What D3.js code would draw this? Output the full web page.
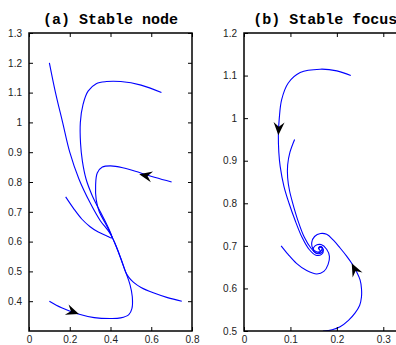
<!DOCTYPE html>
<html>
<head>
<meta charset="utf-8">
<script src="https://cdn.jsdelivr.net/npm/d3@7"></script>
<style>
  body { margin: 0; background: #fff; }
  svg { display: block; }
  .tick text { font-family: "Liberation Sans", Arial, sans-serif; font-size: 10px; fill: #222; }
  .title { font-family: "Liberation Mono", "Courier New", monospace; font-weight: bold; font-size: 15px; fill: #000; }
</style>
</head>
<body>
<div id="chart"></div>
<script>
// panel (a) stable node: trajectories [x, y]
const nodeA = [0.408, 0.615];
const trajA = [
  [[0.1, 1.2], [0.13, 1.1], [0.165, 1.0], [0.2, 0.9], [0.245, 0.81], [0.3, 0.73], [0.35, 0.67], [0.385, 0.64], [0.4, 0.625], nodeA],
  [[0.65, 1.1], [0.55, 1.125], [0.45, 1.137], [0.38, 1.137], [0.33, 1.13], [0.29, 1.105], [0.265, 1.06], [0.252, 1.0], [0.253, 0.93], [0.262, 0.87], [0.28, 0.81], [0.31, 0.755], [0.35, 0.70], [0.38, 0.66], [0.4, 0.63], nodeA],
  [[0.70, 0.80], [0.62, 0.815], [0.545, 0.831], [0.46, 0.848], [0.40, 0.854], [0.36, 0.85], [0.335, 0.83], [0.327, 0.79], [0.33, 0.74], [0.345, 0.70], [0.372, 0.665], [0.395, 0.635], nodeA],
  [[0.18, 0.75], [0.22, 0.71], [0.26, 0.675], [0.3, 0.65], [0.34, 0.632], [0.38, 0.62], [0.405, 0.612], nodeA],
  [[0.1, 0.4], [0.16, 0.378], [0.242, 0.357], [0.32, 0.345], [0.398, 0.342], [0.45, 0.344], [0.49, 0.355], [0.505, 0.375], [0.507, 0.415], [0.496, 0.455], [0.476, 0.495], [0.455, 0.535], [0.435, 0.572], [0.42, 0.597], nodeA],
  [[0.75, 0.4], [0.68, 0.412], [0.61, 0.428], [0.55, 0.446], [0.512, 0.464], [0.49, 0.48], [0.474, 0.498], [0.455, 0.535], [0.435, 0.572], [0.42, 0.597], nodeA]
];
// arrows: [tipX, tipY, fromX, fromY]
const arrowsA = [
  [0.541, 0.826, 0.62, 0.815],
  [0.245, 0.357, 0.16, 0.378]
];

// panel (b) stable focus
const focusB = [0.16, 0.694];
const trajB = [
  [[0.23, 1.10], [0.2, 1.111], [0.164, 1.115], [0.121, 1.107], [0.095, 1.082], [0.081, 1.043], [0.076, 1.0], [0.074, 0.96], [0.075, 0.92], [0.078, 0.886], [0.086, 0.84], [0.097, 0.80], [0.11, 0.76], [0.125, 0.72], [0.14, 0.692], [0.155, 0.678], [0.167, 0.68], [0.171, 0.69], [0.166, 0.698], focusB],
  [[0.109, 0.95], [0.099, 0.92], [0.094, 0.89], [0.094, 0.86], [0.098, 0.83], [0.105, 0.80], [0.116, 0.76], [0.13, 0.72], [0.144, 0.695], [0.157, 0.682], [0.167, 0.684], [0.17, 0.692], [0.164, 0.699], focusB],
  [[0.08, 0.70], [0.095, 0.68], [0.113, 0.659], [0.135, 0.642], [0.157, 0.634], [0.172, 0.64], [0.181, 0.656], [0.184, 0.675], [0.178, 0.692], [0.166, 0.703], [0.153, 0.70], [0.149, 0.69], [0.155, 0.683], [0.165, 0.686], focusB],
  [[0.17, 0.50], [0.19, 0.503], [0.207, 0.51], [0.225, 0.525], [0.239, 0.542], [0.249, 0.56], [0.253, 0.58], [0.253, 0.60], [0.25, 0.62], [0.242, 0.64], [0.232, 0.659], [0.221, 0.676], [0.207, 0.695], [0.192, 0.714], [0.178, 0.727], [0.165, 0.729], [0.152, 0.722], [0.146, 0.708], [0.148, 0.694], [0.156, 0.686], [0.166, 0.688], [0.168, 0.697], focusB]
];
const arrowsB = [
  [0.074, 0.96, 0.076, 1.0],
  [0.232, 0.659, 0.25, 0.62]
];

const xTicksA = [0, 0.2, 0.4, 0.6, 0.8];
const yTicksA = [0.4, 0.5, 0.6, 0.7, 0.8, 0.9, 1.0, 1.1, 1.2, 1.3];
const xTicksB = [0, 0.1, 0.2, 0.3];
const yTicksB = [0.5, 0.6, 0.7, 0.8, 0.9, 1.0, 1.1, 1.2];

const width = 396, height = 345;
const svg = d3.select('#chart').append('svg')
  .attr('width', width).attr('height', height);

function drawPanel(opts) {
  const x = d3.scaleLinear().domain(opts.xDomain).range([opts.left, opts.right]);
  const y = d3.scaleLinear().domain(opts.yDomain).range([opts.bottom, opts.top]);
  const g = svg.append('g');
  const fmt = (d) => d3.format('~g')(d);

  const clipId = 'clip-' + opts.name;
  svg.append('clipPath').attr('id', clipId)
    .append('rect')
    .attr('x', opts.left).attr('y', opts.top)
    .attr('width', opts.right - opts.left).attr('height', opts.bottom - opts.top);

  const line = d3.line()
    .x((d) => x(d[0])).y((d) => y(d[1]))
    .curve(d3.curveCatmullRom.alpha(0.5));

  g.append('g').attr('clip-path', `url(#${clipId})`)
    .selectAll('path').data(opts.traj).enter()
    .append('path')
    .attr('d', line)
    .attr('fill', 'none')
    .attr('stroke', '#0000ff')
    .attr('stroke-width', 1.1);

  // arrow heads
  g.selectAll('path.arrow').data(opts.arrows).enter()
    .append('path')
    .attr('class', 'arrow')
    .attr('d', 'M0,0 L-13,-5.5 L-8.5,0 L-13,5.5 Z')
    .attr('fill', '#000')
    .attr('transform', (d) => {
      const ang = Math.atan2(y(d[1]) - y(d[3]), x(d[0]) - x(d[2])) * 180 / Math.PI;
      return `translate(${x(d[0])},${y(d[1])}) rotate(${ang})`;
    });

  // axes, ticks inward
  g.append('g').attr('transform', `translate(0,${opts.bottom})`)
    .call(d3.axisBottom(x).tickValues(opts.xTicks).tickSizeInner(-4).tickSizeOuter(0).tickPadding(5).tickFormat(fmt));
  g.append('g').attr('transform', `translate(0,${opts.top})`)
    .call(d3.axisTop(x).tickValues(opts.xTicks).tickSizeInner(-4).tickSizeOuter(0).tickFormat(''));
  g.append('g').attr('transform', `translate(${opts.left},0)`)
    .call(d3.axisLeft(y).tickValues(opts.yTicks).tickSizeInner(-4).tickSizeOuter(0).tickPadding(7).tickFormat(fmt));
  g.append('g').attr('transform', `translate(${opts.right},0)`)
    .call(d3.axisRight(y).tickValues(opts.yTicks).tickSizeInner(-4).tickSizeOuter(0).tickFormat(''));
  g.selectAll('.domain').remove();
  g.selectAll('.tick line').attr('stroke', '#000').attr('stroke-width', 1);

  g.append('rect')
    .attr('x', opts.left).attr('y', opts.top)
    .attr('width', opts.right - opts.left).attr('height', opts.bottom - opts.top)
    .attr('fill', 'none').attr('stroke', '#000').attr('stroke-width', 1.5);

  g.append('text')
    .attr('class', 'title')
    .attr('x', (opts.left + opts.right) / 2)
    .attr('y', 24)
    .attr('text-anchor', 'middle')
    .text(opts.title);
}

drawPanel({
  name: 'a', title: '(a) Stable node',
  left: 29, right: 192, top: 33, bottom: 331,
  xDomain: [0, 0.8], yDomain: [0.3, 1.3],
  xTicks: xTicksA, yTicks: yTicksA, traj: trajA, arrows: arrowsA
});
drawPanel({
  name: 'b', title: '(b) Stable focus',
  left: 244, right: 406.5, top: 33, bottom: 331,
  xDomain: [0, 0.35], yDomain: [0.5, 1.2],
  xTicks: xTicksB, yTicks: yTicksB, traj: trajB, arrows: arrowsB
});
</script>
</body>
</html>
